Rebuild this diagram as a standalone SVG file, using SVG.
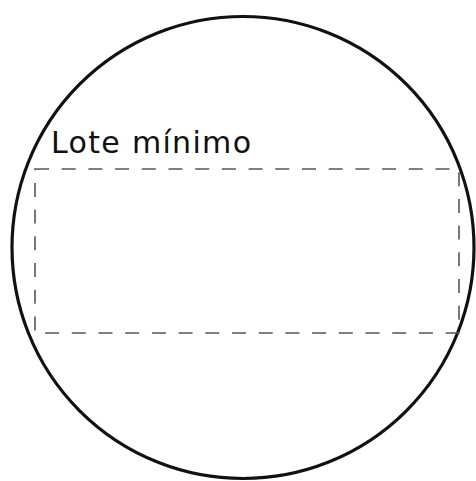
<svg xmlns="http://www.w3.org/2000/svg" width="476" height="481" viewBox="0 0 476 481">
<style>
.outline{fill:none;stroke:#111;stroke-width:3.2}
.lot{fill:none;stroke:#555;stroke-width:1.6;stroke-dasharray:14 12.7}
.label{font-family:"DejaVu Sans",sans-serif;font-size:30px;fill:#111}
</style>
<rect width="476" height="481" fill="#fff"/>
<g id="circle"><circle class="outline" cx="243" cy="247.5" r="231"/></g>
<g id="lote">
<rect class="lot" x="35" y="169" width="424" height="164"/>
<text class="label" x="51" y="153" textLength="200" lengthAdjust="spacing">Lote mínimo</text>
</g>
</svg>
